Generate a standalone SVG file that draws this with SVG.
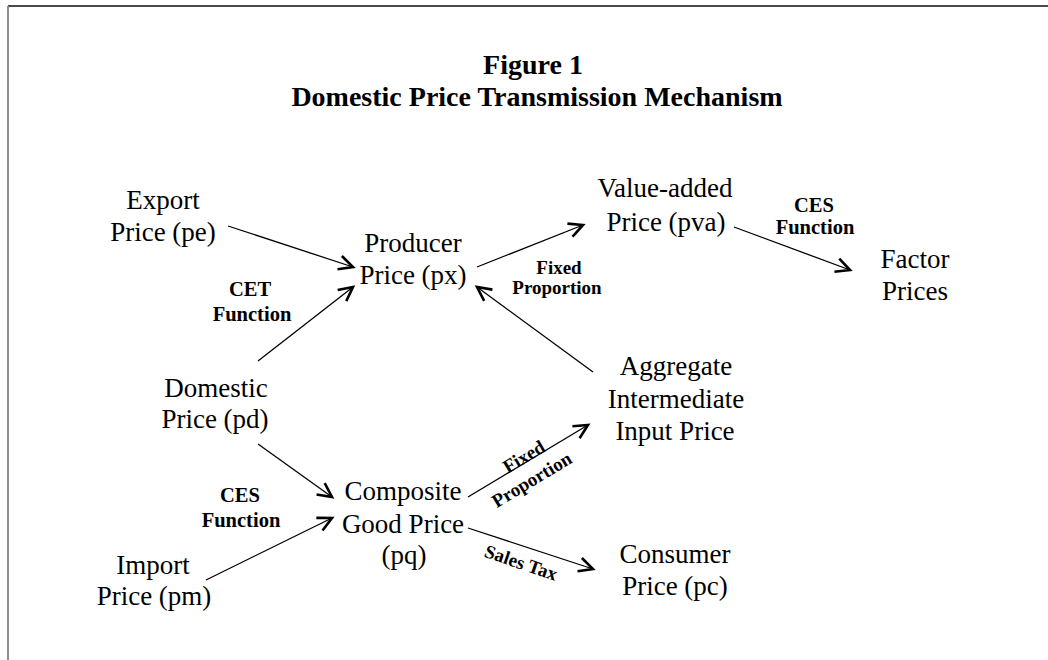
<svg xmlns="http://www.w3.org/2000/svg" width="1048" height="660" viewBox="0 0 1048 660">
<style>
.n{font-family:"Liberation Serif","Times New Roman",serif;font-size:27px;fill:#000;text-anchor:middle}
.t{font-family:"Liberation Serif","Times New Roman",serif;font-size:28px;font-weight:bold;fill:#000;text-anchor:middle}
.l{font-family:"Liberation Serif","Times New Roman",serif;font-size:20.5px;font-weight:bold;fill:#000;text-anchor:middle}
.s{font-family:"Liberation Serif","Times New Roman",serif;font-size:19px;font-weight:bold;fill:#000;text-anchor:middle}
.c line{stroke:#000;stroke-width:1.3;marker-end:url(#ah)}
</style>
<defs>
<marker id="ah" markerUnits="userSpaceOnUse" markerWidth="20" markerHeight="20" refX="15" refY="8" orient="auto" viewBox="0 0 20 16">
<path d="M1,1 L15,8 L1,15" fill="none" stroke="#000" stroke-width="2.6" stroke-linejoin="miter"/>
</marker>
</defs>
<rect width="1048" height="660" fill="#fff"/>
<line x1="8" y1="6" x2="1048" y2="6" stroke="#111" stroke-width="1.4"/>
<line x1="8" y1="6" x2="8" y2="660" stroke="#808080" stroke-width="1.8"/>
<g id="title">
<text class="t" x="533" y="74">Figure 1</text>
<text class="t" x="537" y="106">Domestic Price Transmission Mechanism</text>
</g>
<g id="export"><text class="n" x="163" y="209">Export</text><text class="n" x="163" y="241">Price (pe)</text></g>
<g id="producer"><text class="n" x="413" y="252">Producer</text><text class="n" x="413" y="284">Price (px)</text></g>
<g id="valueadded"><text class="n" x="665" y="197">Value-added</text><text class="n" x="666" y="231">Price (pva)</text></g>
<g id="factor"><text class="n" x="915" y="268">Factor</text><text class="n" x="915" y="300">Prices</text></g>
<g id="domestic"><text class="n" x="216" y="397">Domestic</text><text class="n" x="215" y="428">Price (pd)</text></g>
<g id="aggregate"><text class="n" x="676" y="375">Aggregate</text><text class="n" x="676" y="408">Intermediate</text><text class="n" x="675" y="440">Input Price</text></g>
<g id="composite"><text class="n" x="403" y="500">Composite</text><text class="n" x="403" y="533">Good Price</text><text class="n" x="404" y="564">(pq)</text></g>
<g id="import"><text class="n" x="153" y="574">Import</text><text class="n" x="154" y="605">Price (pm)</text></g>
<g id="consumer"><text class="n" x="675" y="563">Consumer</text><text class="n" x="675" y="595">Price (pc)</text></g>
<g id="connectors" class="c">
<line x1="228" y1="226" x2="353" y2="267"/>
<line x1="258" y1="361" x2="353" y2="287"/>
<line x1="477" y1="267" x2="583" y2="225"/>
<line x1="593" y1="372" x2="477" y2="287"/>
<line x1="734" y1="227" x2="850" y2="270"/>
<line x1="258" y1="444" x2="332" y2="497"/>
<line x1="206" y1="580" x2="332" y2="518"/>
<line x1="468" y1="497" x2="588" y2="425"/>
<line x1="468" y1="528" x2="593" y2="569"/>
</g>
<g id="labels">
<text class="l" x="250" y="296">CET</text><text class="l" x="252" y="321">Function</text>
<text class="l" x="240" y="502">CES</text><text class="l" x="241" y="527">Function</text>
<text class="l" x="814" y="212">CES</text><text class="l" x="815" y="234">Function</text>
<text class="s" x="559" y="274">Fixed</text><text class="s" x="557" y="294">Proportion</text>
<g transform="translate(524,457) rotate(-31)"><text class="s" x="0" y="6">Fixed</text></g>
<g transform="translate(532,480) rotate(-31)"><text class="s" x="0" y="6">Proportion</text></g>
<g transform="translate(521,563) rotate(19)"><text class="s" x="0" y="6">Sales Tax</text></g>
</g>
</svg>
